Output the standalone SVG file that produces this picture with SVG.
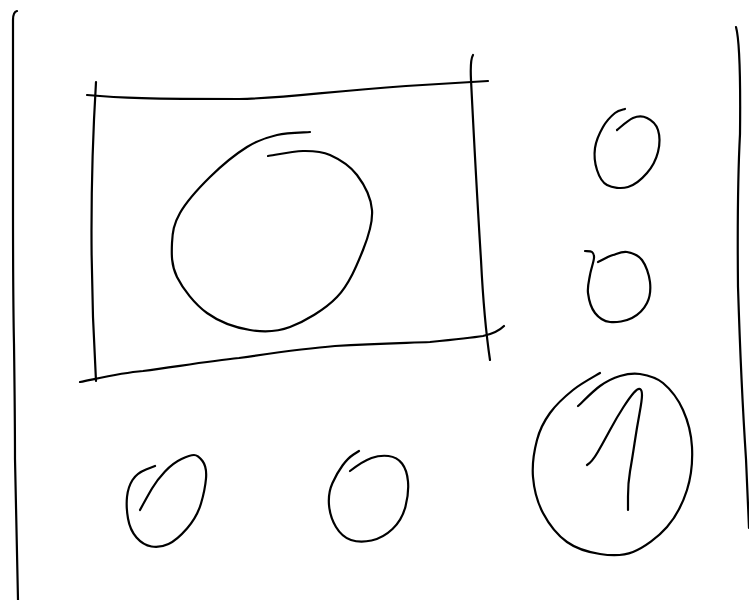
<svg xmlns="http://www.w3.org/2000/svg" width="749" height="600" viewBox="0 0 749 600">
<style>
.s{fill:none;stroke:#000;stroke-width:2.2;stroke-linecap:round;stroke-linejoin:round}
</style>
<rect width="749" height="600" fill="#fff"/>
<g id="left-border"><path class="s" d="M17,11 Q13,12 13,20 L13,200 Q13,300 14,344 Q15,420 15,459 L18,600"/></g>
<g id="right-border"><path class="s" d="M736,27 Q741,45 740,134 Q737,191 738,287 Q741,383 746,459 L749,528"/></g>
<g id="frame">
<path class="s" d="M87,95 C120,98 150,99 239,99 C290,98 320,92 406,86 L488,81"/>
<path class="s" d="M96,82 Q87,230 96,381"/>
<path class="s" d="M80,382 C100,378 120,373 143,371 C180,366 210,361 239,358 C280,352 310,348 335,346 C380,343 410,343 430,342 C450,340 470,338 483,336 Q497,333 504,326"/>
<path class="s" d="M473,55 Q470,60 471,80 Q476,180 481,260 Q484,320 490,360"/>
</g>
<g id="big-circle"><path class="s" d="M268,156 C273.8,155.2 292.7,151.2 303,151 C313.3,150.8 321,151 330,155 C339,159 350,165.8 357,175 C364,184.2 371,197.5 372,210 C373,222.5 368.8,235.5 363,250 C357.2,264.5 349.2,284.2 337,297 C324.8,309.8 304.5,321.5 290,327 C275.5,332.5 263.8,332.3 250,330 C236.2,327.7 219.2,321.8 207,313 C194.8,304.2 182.8,288.7 177,277 C171.2,265.3 171.5,253.7 172,243 C172.5,232.3 173.7,224 180,213 C186.3,202 198.8,188 210,177 C221.2,166 235.8,154 247,147 C258.2,140 266.5,137.5 277,135 C287.5,132.5 304.5,132.5 310,132"/></g>
<g id="small-top"><path class="s" d="M617,130 C619.7,128 628,120 633,118 C638,116 642.8,116 647,118 C651.2,120 656.2,124.3 658,130 C659.8,135.7 659.8,144.8 658,152 C656.2,159.2 652,167.2 647,173 C642,178.8 634.7,185 628,187 C621.3,189 612.2,187.8 607,185 C601.8,182.2 599,176.2 597,170 C595,163.8 594,155.2 595,148 C596,140.8 599.7,132.8 603,127 C606.3,121.2 611.3,116 615,113 C618.7,110 623.3,109.7 625,109"/></g>
<g id="small-mid"><path class="s" d="M585,251 C586.2,251.2 590.5,250.8 592,252 C593.5,253.2 594.3,254.2 594,258 C593.7,261.8 591,269.2 590,275 C589,280.8 587.2,286.7 588,293 C588.8,299.3 591.3,308.2 595,313 C598.7,317.8 603.8,321.2 610,322 C616.2,322.8 625.8,321.2 632,318 C638.2,314.8 644,309 647,303 C650,297 650.8,289.2 650,282 C649.2,274.8 645.8,265 642,260 C638.2,255 631.8,252.8 627,252 C622.2,251.2 618.2,253.3 613,255 C607.8,256.7 600.5,260.8 598,262"/></g>
<g id="big-one">
<path class="s" d="M578,406 C581.7,402.7 593,391 600,386 C607,381 613.3,378 620,376 C626.7,374 632.8,372.8 640,374 C647.2,375.2 655.8,377 663,383 C670.2,389 678.2,399.3 683,410 C687.8,420.7 691.3,433.7 692,447 C692.7,460.3 691.2,476.7 687,490 C682.8,503.3 676,516.7 667,527 C658,537.3 644.2,547.5 633,552 C621.8,556.5 611,555.7 600,554 C589,552.3 576.5,548.8 567,542 C557.5,535.2 548.7,523.8 543,513 C537.3,502.2 534,489.2 533,477 C532,464.8 534.2,450.7 537,440 C539.8,429.3 544,421.3 550,413 C556,404.7 564.7,396.7 573,390 C581.3,383.3 595.5,375.8 600,373"/>
<path class="s" d="M587,465 Q592,462 597.5,452.5 Q603,443 610,430 Q617,417 623.5,407 Q630,397 634,392.5 Q638,388 640,389 Q642,390 642,395 Q642,400 639.5,413.5 Q637,427 634.5,443.5 Q632,460 630,471.5 Q628,483 628,496.5 L628,510"/>
</g>
<g id="bottom-left"><path class="s" d="M140,510 Q147,497 152,488.5 Q157,480 165,471.5 Q173,463 181.5,459 Q190,455 194,455 Q198,455 202.5,461 Q207,467 206,478.5 Q205,490 201,503.5 Q197,517 187,528.5 Q177,540 168.5,544 Q160,548 151.5,546.5 Q143,545 136.5,537.5 Q130,530 128,518.5 Q126,507 127,497 Q128,487 132.5,480 Q137,473 146,469.5 L155,466"/></g>
<g id="bottom-mid"><path class="s" d="M350,471 Q363,461 371.5,458 Q380,455 388.5,456 Q397,457 402,463.5 Q407,470 408,481.5 Q409,493 405.5,506.5 Q402,520 392.5,529 Q383,538 371.5,540.5 Q360,543 351,540 Q342,537 336,527 Q330,517 329,505 Q328,493 332.5,483 Q337,473 342.5,465.5 Q348,458 353.5,454.5 L359,451"/></g>
</svg>
